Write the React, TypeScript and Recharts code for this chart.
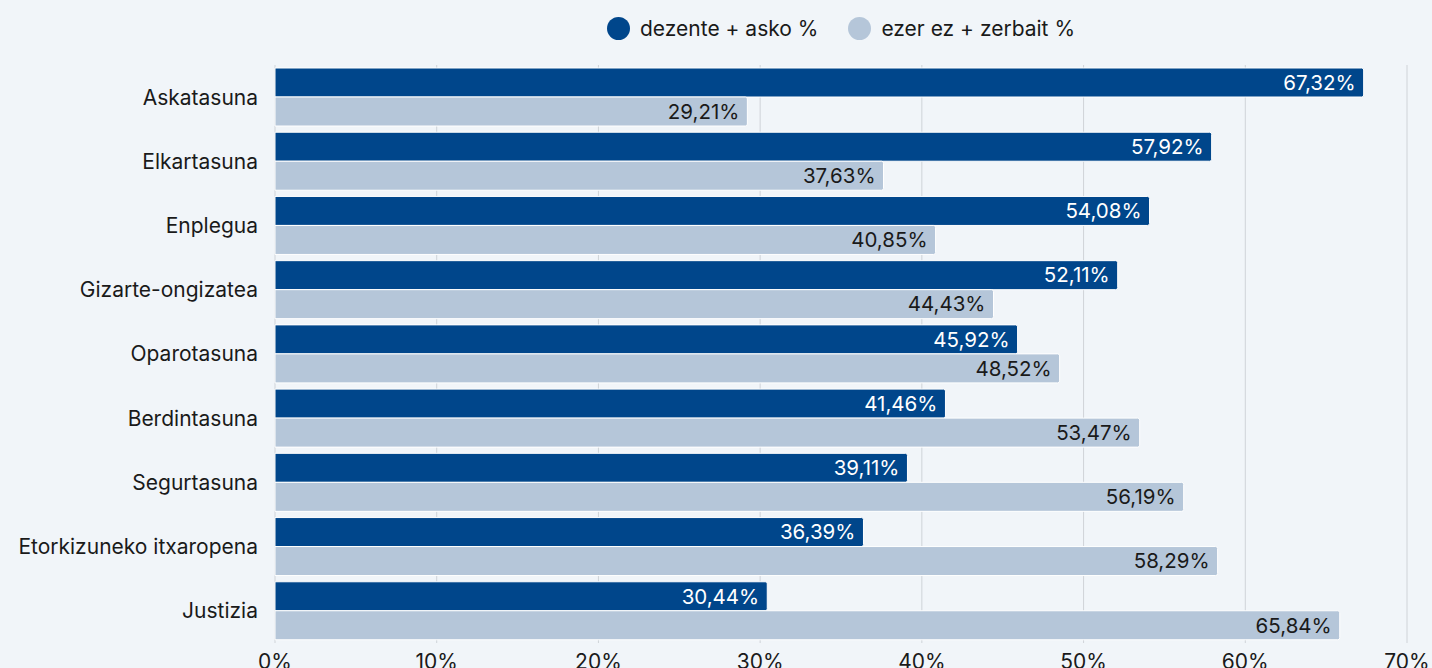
import { Bar, BarChart, CartesianGrid, LabelList, Legend, XAxis, YAxis } from 'recharts';

const categories = [
  'Askatasuna',
  'Elkartasuna',
  'Enplegua',
  'Gizarte-ongizatea',
  'Oparotasuna',
  'Berdintasuna',
  'Segurtasuna',
  'Etorkizuneko itxaropena',
  'Justizia',
];
const asko = [67.32, 57.92, 54.08, 52.11, 45.92, 41.46, 39.11, 36.39, 30.44];
const zerbait = [29.21, 37.63, 40.85, 44.43, 48.52, 53.47, 56.19, 58.29, 65.84];
const xTicks = [0, 10, 20, 30, 40, 50, 60, 70];

const DARK = '#00468b';
const LIGHT = '#b5c6d9';
const BG = '#f1f5f9';
const FONT = 'Inter, "DejaVu Sans", sans-serif';

const data = categories.map((name, i) => ({ name, asko: asko[i], zerbait: zerbait[i] }));

const pct = (v: number) => `${v.toFixed(2).replace('.', ',')}%`;

function LegendContent() {
  const items = [
    { label: 'dezente + asko %', color: DARK },
    { label: 'ezer ez + zerbait %', color: LIGHT },
  ];
  return (
    <div style={{ display: 'flex', justifyContent: 'center', gap: 30, fontFamily: FONT, fontSize: 21, color: '#1a1a1a', height: 30 }}>
      {items.map((it) => (
        <div key={it.label} style={{ display: 'flex', alignItems: 'center', gap: 10 }}>
          <span style={{ width: 23, height: 23, borderRadius: 12, background: it.color, display: 'inline-block' }} />
          <span>{it.label}</span>
        </div>
      ))}
    </div>
  );
}

export default function App() {
  return (
    <div style={{ position: 'absolute', left: 0, top: 0, width: 1432, height: 668, background: BG, overflow: 'hidden' }}>
      <BarChart
        width={1432}
        height={668}
        data={data}
        layout="vertical"
        margin={{ top: 35, right: 25, bottom: 0, left: 0 }}
        barGap={0}
        barCategoryGap={3}
      >
        <CartesianGrid horizontal={false} stroke="#cfd3d8" />
        <XAxis
          type="number"
          domain={[0, 70]}
          ticks={xTicks}
          tickFormatter={(v) => `${v}%`}
          axisLine={false}
          tickLine={false}
          tick={{ fill: '#1a1a1a', fontSize: 21, fontFamily: FONT }}
          tickMargin={5}
          height={25}
          interval={0}
        />
        <YAxis
          type="category"
          dataKey="name"
          width={275}
          axisLine={false}
          tickLine={false}
          tick={{ fill: '#1a1a1a', fontSize: 21, fontFamily: FONT }}
          tickMargin={11}
          interval={0}
        />
        <Legend
          verticalAlign="top"
          content={<LegendContent />}
          wrapperStyle={{ top: 13, left: 275, width: 1132 }}
        />
        <Bar dataKey="asko" fill={DARK} stroke="#ffffff" strokeWidth={1} radius={[0, 2, 2, 0]} isAnimationActive={false}>
          <LabelList
            dataKey="asko"
            position="insideRight"
            offset={8}
            formatter={(v: number) => pct(v)}
            style={{ fill: '#ffffff', fontSize: 20.5, fontFamily: FONT }}
          />
        </Bar>
        <Bar dataKey="zerbait" fill={LIGHT} stroke="#ffffff" strokeWidth={1} radius={[0, 2, 2, 0]} isAnimationActive={false}>
          <LabelList
            dataKey="zerbait"
            position="insideRight"
            offset={8}
            formatter={(v: number) => pct(v)}
            style={{ fill: '#1a1a1a', fontSize: 20.5, fontFamily: FONT }}
          />
        </Bar>
      </BarChart>
    </div>
  );
}
